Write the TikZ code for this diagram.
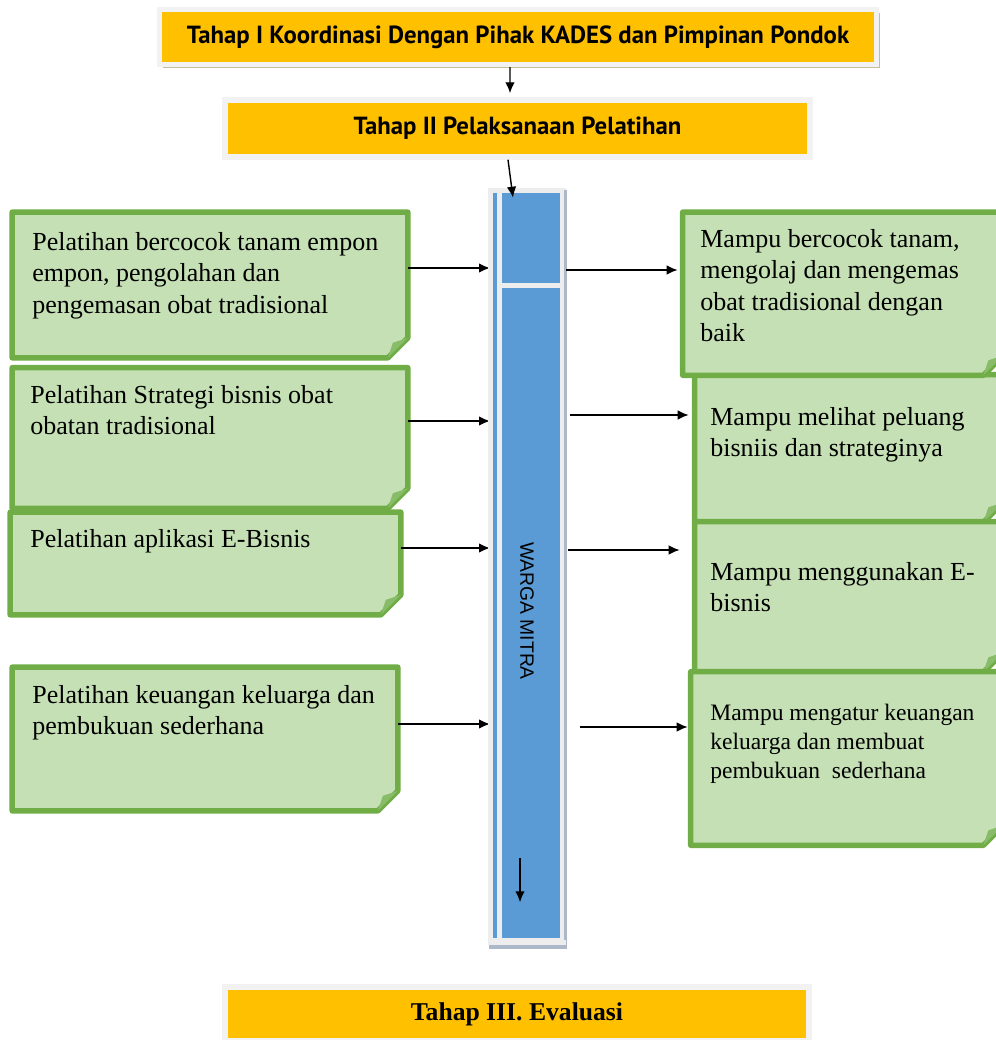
\documentclass[tikz,border=0pt]{standalone}
\usepackage{fontspec}
\setmainfont{Liberation Serif}
\newfontfamily\headfont{PT Sans}
\newfontfamily\barfont{Liberation Sans}
\usetikzlibrary{shadows,arrows.meta}

\definecolor{tahaporange}{HTML}{FFC000}
\definecolor{tahapframe}{HTML}{F2F2F2}
\definecolor{tahapshadow}{HTML}{C9BC9C}
\definecolor{notefill}{HTML}{C5E0B4}
\definecolor{noteedge}{HTML}{70AD47}
\definecolor{barblue}{HTML}{5B9BD5}
\definecolor{barframe}{HTML}{EDEDED}
\definecolor{barline}{HTML}{ADB9CA}

\tikzset{
  tahap/.style={fill=tahaporange, draw=tahapframe, line width=0.11cm,
    drop shadow={shadow xshift=0.07cm, shadow yshift=-0.07cm, fill=tahapshadow, opacity=1}},
  tahapsans/.style={font=\headfont\bfseries\fontsize{14.1}{16}\selectfont},
  note/.style={rectangle, inner sep=0pt},
  noteline/.style={fill=notefill, draw=noteedge, line width=0.11cm, line join=round},
  notetext/.style={anchor=north west, inner sep=0pt, align=left,
    font=\fontsize{14.8}{17.9}\selectfont},
  arr/.style={-{Latex[length=0.22cm,width=0.19cm]}, line width=0.8pt}
}

\begin{document}
\begin{tikzpicture}[x=0.02cm, y=-0.02cm]
  \useasboundingbox (0,0) rectangle (996,1040);
  \clip (0,0) rectangle (996,1040);

  % Tahap I dan II
  \node[tahap, tahapsans, minimum width=14.34cm, minimum height=1.1cm] (t1) at (518,37) {Tahap I Koordinasi Dengan Pihak KADES dan Pimpinan Pondok};
  \node[tahap, tahapsans, minimum width=11.7cm, minimum height=1.14cm] (t2) at (517.5,128.5) {Tahap II Pelaksanaan Pelatihan};
  \draw[arr] ([xshift=-0.16cm]t1.south) -- ([xshift=-0.15cm, yshift=0.08cm]t2.north);

  % kotak pelatihan (kiri) dan hasil (kanan)
  \node[note, minimum width=7.9cm, minimum height=2.9cm] (l1) at (210,285) {};
  \node[note, minimum width=7.9cm, minimum height=2.8cm] (l2) at (210,438) {};
  \node[note, minimum width=7.8cm, minimum height=2.04cm] (l3) at (205.5,563.5) {};
  \node[note, minimum width=7.7cm, minimum height=2.86cm] (l4) at (205,739) {};
  \node[note, minimum width=6.4cm, minimum height=3.25cm] (r1) at (843,293.75) {};
  \node[note, minimum width=6.16cm, minimum height=2.94cm] (r2) at (849,448.5) {};
  \node[note, minimum width=6.16cm, minimum height=3.0cm] (r3) at (849,597) {};
  \node[note, minimum width=6.24cm, minimum height=3.46cm] (r4) at (847,758.5) {};
  \foreach \n in {l1,l2,l3,l4,r2,r1,r3,r4} {
    \draw[noteline] (\n.north west) -- (\n.north east) -- ([yshift=0.4cm]\n.south east)
      -- ([xshift=-0.4cm]\n.south east) -- (\n.south west) -- cycle;
    % lipatan sudut
    \fill[noteedge!70!notefill] ([xshift=-0.4cm]\n.south east) -- ([yshift=0.4cm]\n.south east)
      -- ([xshift=-0.3cm, yshift=0.3cm]\n.south east) -- cycle;
  }

  \node[notetext] (l1txt) at (32,232) {Pelatihan bercocok tanam empon\\empon, pengolahan dan\\pengemasan obat tradisional};
  \node[notetext] (l2txt) at (30,385) {Pelatihan Strategi bisnis obat\\obatan tradisional};
  \node[notetext] (l3txt) at (30,529) {Pelatihan aplikasi E-Bisnis};
  \node[notetext] (l4txt) at (32,685) {Pelatihan keuangan keluarga dan\\pembukuan sederhana};
  \node[notetext] (r1txt) at (700,229) {Mampu bercocok tanam,\\mengolaj dan mengemas\\obat tradisional dengan\\baik};
  \node[notetext] (r2txt) at (710,407) {Mampu melihat peluang\\bisniis dan strateginya};
  \node[notetext] (r3txt) at (710,562) {Mampu menggunakan E-\\bisnis};
  \node[notetext, font=\fontsize{13.4}{16.5}\selectfont] (r4txt) at (710,704) {Mampu mengatur keuangan\\keluarga dan membuat\\pembukuan\ \ sederhana};

  % panah ke warga mitra
  \draw[arr] ([yshift=0.34cm]l1.east) -- ([yshift=0.34cm, xshift=0.04cm]l1.east -| 488,0);
  \draw[arr] ([yshift=0.34cm]l2.east) -- ([yshift=0.34cm, xshift=0.04cm]l2.east -| 488,0);
  \draw[arr] ([yshift=0.31cm]l3.east) -- ([yshift=0.31cm, xshift=0.04cm]l3.east -| 488,0);
  \draw[arr] ([yshift=0.30cm]l4.east) -- ([yshift=0.30cm, xshift=0.04cm]l4.east -| 488,0);

  % Warga mitra
  \node[fill=barframe, minimum width=1.56cm, minimum height=15.14cm, inner sep=0pt,
    drop shadow={shadow xshift=0.02cm, shadow yshift=-0.08cm, fill=barline, opacity=1}] (bar) at (527,566.5) {};
  \fill[barblue] (493,193) rectangle (496.5,938);
  \fill[barblue] (502,193) rectangle (559.5,938);
  \fill[barframe] (502,283) rectangle (559.5,288);
  \fill[barline] (564,190) rectangle (566.5,940);
  \node[rotate=-90, inner sep=0pt, font=\barfont\fontsize{11}{13}\selectfont] (warga) at (527,611) {WARGA MITRA};
  \draw[arr] ([xshift=-0.14cm, yshift=1.74cm]bar.south) -- ([xshift=-0.14cm, yshift=0.86cm]bar.south);
  \draw[arr] ([xshift=-0.19cm]t2.south) -- ([xshift=-0.28cm, yshift=-0.2cm]bar.north);

  % panah ke hasil
  \draw[arr] ([yshift=0.475cm]r1.west -| bar.east) -- ([xshift=-0.1cm, yshift=0.475cm]r1.west);
  \draw[arr] ([xshift=0.08cm, yshift=0.67cm]r2.west -| bar.east) -- ([xshift=-0.12cm, yshift=0.67cm]r2.west);
  \draw[arr] ([xshift=0.04cm, yshift=0.94cm]r3.west -| bar.east) -- ([xshift=-0.3cm, yshift=0.94cm]r3.west);
  \draw[arr] ([xshift=0.28cm, yshift=0.63cm]r4.west -| bar.east) -- ([xshift=-0.06cm, yshift=0.63cm]r4.west);

  % Tahap III
  \node[tahap, font=\bfseries\fontsize{14.6}{17}\selectfont, minimum width=11.68cm, minimum height=1.08cm] (t3) at (517,1014) {Tahap III. Evaluasi};
\end{tikzpicture}
\end{document}
